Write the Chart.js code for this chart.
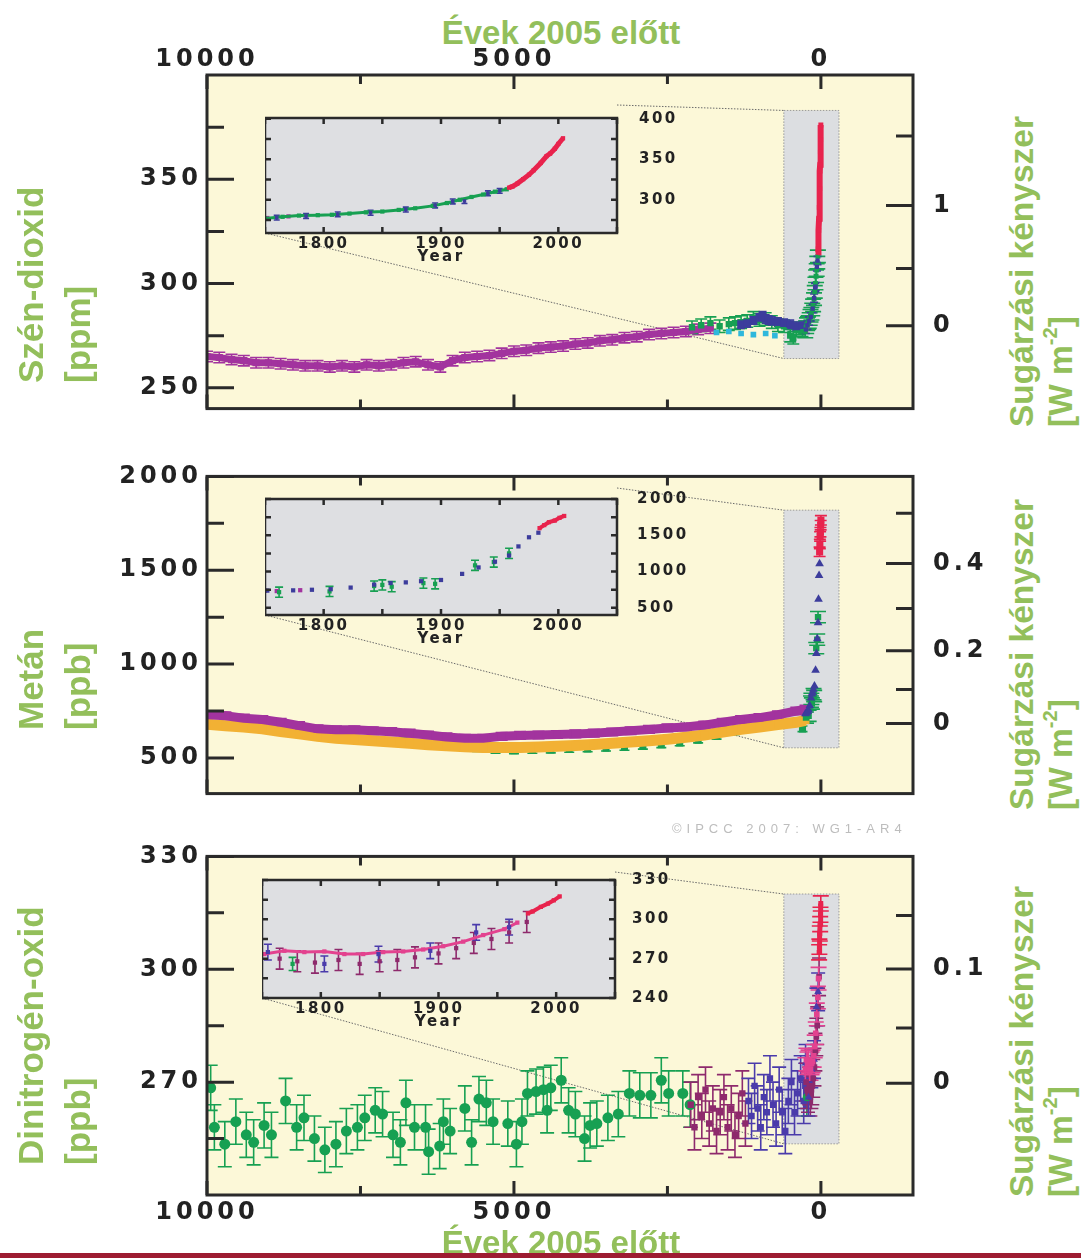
<!DOCTYPE html>
<html>
<head>
<meta charset="utf-8">
<script src="https://cdn.jsdelivr.net/npm/chart.js@4.4.0/dist/chart.umd.min.js"></script>
<style>
  body { margin: 0; background: #fff; font-family: "Liberation Sans", Arial, sans-serif; }
  #page { position: relative; width: 1081px; height: 1258px; overflow: hidden; }
  canvas { position: absolute; }
  .ttl { position: absolute; color: #93bf5b; font-weight: bold; font-size: 33px; line-height: 32px; white-space: nowrap; transform: translateX(-50%); }
  .side { position: absolute; color: #93bf5b; font-weight: bold; white-space: nowrap; transform: rotate(-90deg); transform-origin: 0 0; }
  .side sup { font-size: 60%; vertical-align: baseline; position: relative; top: -0.75em; }
  #ipcc { position: absolute; left: 672px; top: 821px; font-size: 13px; color: #bdbdbd; letter-spacing: 5px; }
  #bar { position: absolute; left: 0; top: 1253px; width: 1081px; height: 5px; background: #9d1c31; }
</style>
</head>
<body>
<div id="page">
  <div class="ttl" style="left:561px;top:17px">Évek 2005 előtt</div>

  <canvas id="main1" width="900" height="415" style="left:100px;top:20px"></canvas>
  <canvas id="main2" width="900" height="370" style="left:100px;top:450px"></canvas>
  <canvas id="main3" width="900" height="410" style="left:100px;top:830px"></canvas>
  <canvas id="inset1" width="432" height="171" style="left:265px;top:95px"></canvas>
  <canvas id="inset2" width="432" height="170" style="left:265px;top:478px"></canvas>
  <canvas id="inset3" width="433" height="169" style="left:262px;top:862px"></canvas>

  <div class="side" style="left:7px;top:383px;font-size:35px;line-height:47px">Szén-dioxid<br>[ppm]</div>
  <div class="side" style="left:7px;top:730px;font-size:35px;line-height:47px">Metán<br>[ppb]</div>
  <div class="side" style="left:7px;top:1165px;font-size:35px;line-height:47px">Dinitrogén-oxid<br>[ppb]</div>
  <div class="side" style="left:1002px;top:427px;font-size:33.5px;line-height:39px">Sugárzási kényszer<br>[W m<sup>-2</sup>]</div>
  <div class="side" style="left:1002px;top:810px;font-size:33.5px;line-height:39px">Sugárzási kényszer<br>[W m<sup>-2</sup>]</div>
  <div class="side" style="left:1002px;top:1197px;font-size:33.5px;line-height:39px">Sugárzási kényszer<br>[W m<sup>-2</sup>]</div>

  <div id="ipcc">©IPCC 2007: WG1-AR4</div>
  <div class="ttl" style="left:561px;top:1227px">Évek 2005 előtt</div>
  <div id="bar"></div>
</div>

<script>
// axes: years before 2005 on the big panels, calendar years in the insets
const yearTicks = [10000, 7500, 5000, 2500, 0];
const yearLabels = ['10000', '', '5000', '', '0'];
const insetYearTicks = [1750, 1800, 1850, 1900, 1950, 2000, 2050];
const insetYearLabels = ['', '1800', '', '1900', '', '2000', ''];

// CO2 axes
const co2Ticks = [250, 275, 300, 325, 350, 375];
const co2Labels = ['250', '', '300', '', '350', ''];
const co2ForcingPos = [279.7, 307.2, 337.4, 370.7];   // ppm where the forcing ticks sit
const co2ForcingLabels = ['0', '', '1', ''];
const co2InsetTicks = [275, 300, 325, 350, 375, 400];
const co2InsetLabels = ['', '300', '', '350', '', '400'];

// CH4 axes
const ch4Ticks = [500, 750, 1000, 1250, 1500, 1750, 2000];
const ch4Labels = ['500', '', '1000', '', '1500', '', '2000'];
const ch4ForcingPos = [683, 865, 1071, 1296, 1536, 1804];
const ch4ForcingLabels = ['0', '', '0.2', '', '0.4', ''];
const ch4InsetTicks = [500, 750, 1000, 1250, 1500, 1750, 2000];
const ch4InsetLabels = ['500', '', '1000', '', '1500', '', '2000'];

// N2O axes
const n2oTicks = [255, 270, 285, 300, 315, 330];
const n2oLabels = ['', '270', '', '300', '', '330'];
const n2oForcingPos = [269.7, 284.4, 300.1, 314.3];
const n2oForcingLabels = ['0', '', '0.1', ''];
const n2oInsetTicks = [240, 255, 270, 285, 300, 315, 330];
const n2oInsetLabels = ['240', '', '270', '', '300', '', '330'];

// CO2 series, [years before 2005, ppm]
const co2PurpleBP = [[10000,265],[9800,264.5],[9600,263.5],[9400,263],[9200,262],[9000,262],[8800,261.5],[8600,261],[8400,260.5],[8200,260.5],[8000,260],[7800,260.5],[7600,260],[7400,261],[7200,260.5],[7000,261],[6800,262],[6600,262.5],[6400,261],[6200,260],[6000,263],[5800,264.5],[5600,265],[5400,265.5],[5200,266.5],[5000,267.5],[4800,268],[4600,269],[4400,269.5],[4200,270],[4000,271],[3800,271.5],[3600,272.5],[3400,273],[3200,274],[3000,274.5],[2800,275.5],[2600,276],[2400,276.5],[2200,277],[2000,278],[1800,278.5]];
const co2GreenBP = [[2100,279],[1950,280],[1800,281],[1650,279.5],[1500,280.5],[1400,281],[1300,281.5],[1200,282],[1100,283.5],[1000,282.5],[900,283],[800,281.5],[700,280],[600,279.5],[500,275],[450,274],[400,277.5],[350,278.5],[300,277.5]];
const co2CyanBP = [[1700,276.5],[1500,277],[1300,276],[1100,275.5],[900,276],[750,275]];
const co2BlueBP = [[1300,280.5],[1200,281],[1100,282.5],[1000,283.5],[950,284.5],[900,283],[850,282.5],[800,282],[700,281.5],[600,281],[500,280.5],[400,279.5],[300,280]];
// CO2 series, [year AD, ppm]
const co2PurpleAD = [[1752,277.5],[1770,279.5]];
const co2GreenAD = [[1750,277],[1765,279],[1779,280.5],[1795,281],[1807,281.5],[1822,283],[1836,284.5],[1850,285.5],[1864,287.5],[1878,289.5],[1893,292.5],[1905,296],[1916,300],[1926,303.5],[1936,306.5],[1946,310],[1956,313]];
const co2BlueAD = [[1760,278],[1785,280],[1812,282],[1840,284],[1870,288],[1895,293],[1910,298],[1920,298.5],[1940,308],[1950,311]];
const co2RedAD = [[1958,315],[1961,316.5],[1965,320],[1970,325.5],[1975,331],[1979,336.5],[1985,345.5],[1990,354],[1993,357],[1997,363],[2000,369],[2004,376]];

// CH4 series, [years before 2005, ppb]
const ch4PurpleBP = [[10000,730],[9700,725],[9400,712],[9100,705],[8800,690],[8500,672],[8200,655],[7900,650],[7600,650],[7300,645],[7000,640],[6700,632],[6400,622],[6100,612],[5800,605],[5500,605],[5200,615],[4900,620],[4600,622],[4300,625],[4000,628],[3700,632],[3400,638],[3100,645],[2800,652],[2500,660],[2200,665],[1900,675],[1600,690],[1300,705],[1000,715],[700,730],[400,750],[250,760]];
const ch4OrangeBP = [[10000,680],[9700,672],[9400,665],[9100,655],[8800,640],[8500,628],[8200,615],[7900,605],[7600,598],[7300,592],[7000,585],[6700,578],[6400,570],[6100,565],[5800,560],[5500,556],[5200,555],[4900,556],[4600,558],[4300,562],[4000,566],[3700,572],[3400,578],[3100,585],[2800,592],[2500,600],[2200,610],[1900,622],[1600,638],[1300,652],[1000,665],[700,678],[400,690],[250,700]];
const ch4GreenBP = [[6800,590],[6500,575],[5600,550],[5300,540],[5000,538],[4700,540],[4400,542],[4100,545],[3800,548],[3500,552],[3200,556],[2900,562],[2600,570],[2300,580],[2000,595],[1700,615],[1400,640],[1100,660],[800,680],[500,690],[300,655],[250,700]];
// CH4 series, [year AD, ppb]
const ch4PurpleAD = [[1750,735],[1760,730],[1780,742]];
const ch4GreenAD = [[1762,715],[1805,725],[1843,800],[1850,815],[1858,790],[1885,840],[1895,830],[1929,1085],[1945,1130],[1958,1250]];
const ch4BlueAD = [[1752,736],[1774,740],[1790,748],[1806,756],[1823,778],[1843,819],[1857,841],[1870,850],[1883,866],[1900,883],[1918,967],[1932,1056],[1946,1135],[1958,1220],[1966,1346],[1975,1472],[1983,1535]];
const ch4RedAD = [[1984,1598],[1988,1640],[1992,1680],[1997,1703],[2001,1740],[2005,1766]];

// N2O series, [years before 2005, ppb]
const n2oGreenBP = [[9940,268.5],[9880,258],[9710,253.5],[9530,259.5],[9360,256],[9240,254],[9070,258.5],[8950,256],[8720,265],[8540,258],[8420,260.5],[8250,255],[8080,252],[7900,253.5],[7730,257],[7550,258],[7430,260.5],[7260,262.5],[7140,261.5],[6970,256],[6850,254],[6760,264.5],[6620,258],[6440,258],[6390,251.5],[6210,253],[6150,259.5],[6040,257],[5800,263],[5690,254],[5570,265.5],[5450,264.5],[5340,259.5],[5100,259],[4960,253.5],[4870,259.5],[4780,267],[4640,267.5],[4520,268],[4460,262.5],[4400,268.5],[4230,270.5],[4110,262.5],[4000,261.5],[3850,255],[3760,258.5],[3650,259],[3470,260.5],[3300,261.5],[3120,267],[2950,266.5],[2770,266.5],[2600,270.5],[2480,267],[2250,267],[2130,264]];
const n2oMaroonBP = [[2120,264],[2060,258],[2000,266],[1940,261],[1880,268],[1820,259],[1760,263],[1700,257],[1640,262],[1580,266],[1520,258],[1460,263],[1400,256],[1340,261],[1280,267],[1230,259]];
const n2oBlueBP = [[1180,265],[1130,261],[1080,269],[1030,263],[980,258],[930,266],[880,262],[830,271],[780,264],[730,259],[680,268],[630,262],[580,257],[530,265],[480,270],[430,262],[380,267],[330,271],[280,265],[255,269]];
// N2O series, [year AD, ppb]
const n2oPinkAD = [[1752,273.5],[1769,276],[1786,275],[1803,275.5],[1820,273.5],[1836,273.5],[1853,275],[1870,275.5],[1887,277],[1904,279.5],[1921,283],[1938,288],[1956,292.5],[1967,297.5]];
const n2oMaroonAD = [[1765,270],[1780,268],[1795,267],[1815,269],[1833,266],[1850,268],[1865,269],[1880,271],[1900,274],[1915,278],[1930,282],[1945,285],[1960,290],[1975,298]];
const n2oBlueAD = [[1755,275],[1803,266],[1849,273.5],[1893,276],[1932,290],[1960,294]];
const n2oGreenAD = [[1776,266]];
const n2oRedAD = [[1976,304.5],[1980,306],[1987,309.5],[1993,312],[1998,314.5],[2003,317.5]];

const PURPLE = '#a2339e', GREEN = '#17a052', BLUE = '#3c3c9c', CYAN = '#2fb8dc', RED = '#e8234d',
      ORANGE = '#f2b134', MAROON = '#8e2a6c', PINK = '#e3428f', VIOLET = '#4a3bab';

const toBP = arr => arr.map(p => ({x: 2005 - p[0], y: p[1]}));
const toXY = arr => arr.map(p => ({x: p[0], y: p[1]}));

function pts(data, color, extra) {
  return Object.assign({
    data: data, backgroundColor: color, borderColor: color,
    pointStyle: 'rect', pointRadius: 4, pointBorderWidth: 0, showLine: false
  }, extra || {});
}

// wide lettering of the original tick labels
const spacing = {
  id: 'spacing',
  beforeDraw(chart, args, o) { chart.ctx.letterSpacing = o.px + 'px'; }
};

// yellow / grey fill, the zoom band and the dotted connectors
const panelPlugin = {
  id: 'panel',
  beforeDatasetsDraw(chart, args, o) {
    const {ctx, chartArea: a, scales: {x, y}} = chart;
    ctx.save();
    ctx.fillStyle = o.bg;
    ctx.fillRect(a.left, a.top, a.width, a.height);
    if (o.band) {
      const l = x.getPixelForValue(o.band.x[0]), r = x.getPixelForValue(o.band.x[1]);
      const t = y.getPixelForValue(o.band.y[1]), b = y.getPixelForValue(o.band.y[0]);
      ctx.fillStyle = '#dcdee1';
      ctx.fillRect(l, t, r - l, b - t);
      ctx.setLineDash([1.5, 1.5]);
      ctx.strokeStyle = '#9a9a9a';
      ctx.lineWidth = 1;
      ctx.strokeRect(l, t, r - l, b - t);
      const ins = o.inset, off = o.offset;
      ctx.strokeStyle = '#6b6b6b';
      ctx.beginPath();
      ctx.moveTo(ins.right - off.left, ins.top - off.top); ctx.lineTo(l, t);
      ctx.moveTo(ins.left - off.left, ins.bottom - off.top); ctx.lineTo(l, b);
      ctx.stroke();
    }
    ctx.restore();
  }
};

// vertical error bars from the dataset's err (data units) and cap (px)
const errorBars = {
  id: 'errorBars',
  beforeDatasetsDraw(chart) {
    const {ctx, chartArea: a, scales: {x, y}} = chart;
    ctx.save();
    ctx.beginPath(); ctx.rect(a.left, a.top, a.width, a.height); ctx.clip();
    chart.data.datasets.slice().reverse().forEach(ds => {
      if (!ds.err) return;
      ctx.strokeStyle = ds.backgroundColor;
      ctx.lineWidth = 1.6;
      ctx.beginPath();
      ds.data.forEach(p => {
        const px = x.getPixelForValue(p.x);
        const y1 = y.getPixelForValue(p.y - ds.err), y2 = y.getPixelForValue(p.y + ds.err);
        ctx.moveTo(px, y1); ctx.lineTo(px, y2);
        ctx.moveTo(px - ds.cap, y1); ctx.lineTo(px + ds.cap, y1);
        ctx.moveTo(px - ds.cap, y2); ctx.lineTo(px + ds.cap, y2);
      });
      ctx.stroke();
    });
    ctx.restore();
  }
};

// box frame with inward tick marks
const frame = {
  id: 'frame',
  afterDatasetsDraw(chart, args, o) {
    const {ctx, chartArea: a} = chart;
    ctx.save();
    ctx.strokeStyle = '#2a2a2a';
    ctx.lineWidth = o.width;
    ctx.beginPath();
    Object.values(chart.scales).forEach(s => {
      s.ticks.forEach(t => {
        const p = s.getPixelForValue(t.value);
        if (s.isHorizontal()) {
          const len = t.label ? o.xLen[0] : o.xLen[1];
          ctx.moveTo(p, a.top); ctx.lineTo(p, a.top + len);
          ctx.moveTo(p, a.bottom); ctx.lineTo(p, a.bottom - len);
        } else {
          const len = t.label ? o.yLen[0] : o.yLen[1];
          if (s.position === 'left' || o.yBoth) { ctx.moveTo(a.left, p); ctx.lineTo(a.left + len, p); }
          if (s.position === 'right' || o.yBoth) { ctx.moveTo(a.right, p); ctx.lineTo(a.right - len, p); }
        }
      });
    });
    ctx.stroke();
    ctx.strokeRect(a.left, a.top, a.width, a.height);
    ctx.restore();
  }
};

const tickFont = {family: 'DejaVu Sans', weight: 'bold', size: 24};
const insetFont = {family: 'DejaVu Sans', weight: 'bold', size: 15};
const INK = '#222';

function fixedTicks(vals) {
  return s => { s.ticks = vals.map(v => ({value: v})); };
}

function mainChart(id, o) {
  return new Chart(document.getElementById(id), {
    type: 'scatter',
    data: {datasets: o.datasets},
    options: {
      responsive: false, animation: false, events: [],
      layout: {padding: o.pad, autoPadding: false},
      plugins: {
        legend: {display: false}, tooltip: {enabled: false},
        spacing: {px: 4},
        panel: {bg: '#fcf8d8', band: o.band, inset: o.inset, offset: o.offset},
        frame: {xLen: [14, 9], yLen: [27, 17], width: 3, yBoth: false}
      },
      scales: {
        x: {
          type: 'linear', position: o.xPos, reverse: true, min: -1500, max: 10000,
          grid: {display: false}, border: {display: false},
          afterBuildTicks: fixedTicks(yearTicks),
          afterFit: s => { s.height = o.xHeight; },
          ticks: {display: o.xLabels, autoSkip: false, maxRotation: 0, padding: o.xPad, color: INK, font: tickFont,
                  callback: (v, i) => yearLabels[i]}
        },
        y: {
          type: 'linear', position: 'left', min: o.min, max: o.max,
          grid: {display: false}, border: {display: false},
          afterBuildTicks: fixedTicks(o.ticks),
          afterFit: s => { s.width = 107; },
          ticks: {autoSkip: false, padding: -3, color: INK, font: tickFont, callback: (v, i) => o.labels[i]}
        },
        y2: {
          type: 'linear', position: 'right', min: o.min, max: o.max,
          grid: {display: false}, border: {display: false},
          afterBuildTicks: fixedTicks(o.forcePos),
          afterFit: s => { s.width = 87; },
          ticks: {autoSkip: false, padding: 12, color: INK, font: tickFont, callback: (v, i) => o.forceLabels[i]}
        }
      }
    },
    plugins: [spacing, panelPlugin, errorBars, frame]
  });
}

function insetChart(id, o) {
  return new Chart(document.getElementById(id), {
    type: 'scatter',
    data: {datasets: o.datasets},
    options: {
      responsive: false, animation: false, events: [],
      layout: {padding: {top: 10}, autoPadding: false},
      plugins: {
        legend: {display: false}, tooltip: {enabled: false},
        spacing: {px: 2.5},
        panel: {bg: '#dedfe2'},
        frame: {xLen: [6, 6], yLen: [6, 6], width: 2.5, yBoth: true}
      },
      scales: {
        x: {
          type: 'linear', position: 'bottom', min: 1750, max: 2050,
          grid: {display: false}, border: {display: false},
          afterBuildTicks: fixedTicks(insetYearTicks),
          afterFit: s => { s.height = 33; },
          ticks: {autoSkip: false, maxRotation: 0, padding: -6, color: INK, font: insetFont,
                  callback: (v, i) => insetYearLabels[i]},
          title: {display: true, text: 'Year', color: INK, font: insetFont, padding: 0}
        },
        y: {
          type: 'linear', position: 'right', min: o.min, max: o.max,
          grid: {display: false}, border: {display: false},
          afterBuildTicks: fixedTicks(o.ticks),
          afterFit: s => { s.width = 80; },
          ticks: {autoSkip: false, padding: o.labelPad, color: INK, font: insetFont, callback: (v, i) => o.labels[i]}
        }
      }
    },
    plugins: [spacing, panelPlugin, errorBars, frame]
  });
}

//Panel 1: carbon dioxide
mainChart('main1', {
  pad: {top: 0, bottom: 5}, xPos: 'top', xHeight: 55, xLabels: true, xPad: -7,
  min: 240, max: 400, ticks: co2Ticks, labels: co2Labels,
  forcePos: co2ForcingPos, forceLabels: co2ForcingLabels,
  band: {x: [604, -294], y: [264, 383]},
  inset: {left: 265, right: 617, top: 105, bottom: 233}, offset: {left: 100, top: 20},
  datasets: [
    pts(toBP(co2RedAD), RED, {pointRadius: 3.5, showLine: true, borderWidth: 6}),
    pts(toBP(co2BlueAD), BLUE, {pointRadius: 3, err: 2, cap: 4}),
    pts(toBP(co2GreenAD), GREEN, {pointRadius: 3.5, err: 3, cap: 8}),
    pts(toXY(co2BlueBP), BLUE, {pointRadius: 5.5, err: 2, cap: 4}),
    pts(toXY(co2CyanBP), CYAN, {pointRadius: 4}),
    pts(toXY(co2GreenBP), GREEN, {pointRadius: 4.5, err: 3, cap: 6}),
    pts(toXY(co2PurpleBP), PURPLE, {pointRadius: 5, showLine: true, borderWidth: 7, err: 2.5, cap: 6}),
    pts(toBP(co2PurpleAD), PURPLE, {pointRadius: 4})
  ]
});

//Panel 2: methane
mainChart('main2', {
  pad: {top: 10, bottom: 7}, xPos: 'bottom', xHeight: 0, xLabels: false, xPad: 0,
  min: 310, max: 2000, ticks: ch4Ticks, labels: ch4Labels,
  forcePos: ch4ForcingPos, forceLabels: ch4ForcingLabels,
  band: {x: [604, -294], y: [554, 1820]},
  inset: {left: 265, right: 617, top: 488, bottom: 615}, offset: {left: 100, top: 450},
  datasets: [
    pts(toBP(ch4RedAD), RED, {pointRadius: 5, err: 25, cap: 6}),
    pts(toBP(ch4BlueAD), BLUE, {pointStyle: 'triangle', pointRadius: 5}),
    pts(toBP(ch4GreenAD), GREEN, {pointRadius: 4.5, err: 30, cap: 8}),
    pts(toBP(ch4PurpleAD), PURPLE, {pointRadius: 4}),
    pts(toXY(ch4PurpleBP), PURPLE, {pointRadius: 5.5, showLine: true, borderWidth: 9, err: 20, cap: 6}),
    pts(toXY(ch4OrangeBP), ORANGE, {pointRadius: 5.5, showLine: true, borderWidth: 11, err: 15, cap: 5}),
    pts(toXY(ch4GreenBP), GREEN, {pointRadius: 5, err: 15, cap: 5})
  ]
});

//Panel 3: nitrous oxide
mainChart('main3', {
  pad: {top: 10, bottom: 0}, xPos: 'bottom', xHeight: 45, xLabels: true, xPad: -5,
  min: 240, max: 330, ticks: n2oTicks, labels: n2oLabels,
  forcePos: n2oForcingPos, forceLabels: n2oForcingLabels,
  band: {x: [604, -294], y: [253.6, 320]},
  inset: {left: 262, right: 615, top: 872, bottom: 998}, offset: {left: 100, top: 830},
  datasets: [
    pts(toBP(n2oRedAD), RED, {pointRadius: 3.5, showLine: true, borderWidth: 5, err: 2, cap: 8}),
    pts(toBP(n2oPinkAD), PINK, {pointRadius: 4, err: 3, cap: 8}),
    pts(toBP(n2oBlueAD), VIOLET, {pointStyle: 'triangle', pointRadius: 4.5, err: 5, cap: 7}),
    pts(toBP(n2oMaroonAD), MAROON, {pointRadius: 4, err: 5, cap: 7}),
    pts(toBP(n2oGreenAD), GREEN, {pointStyle: 'circle', pointRadius: 4, err: 5, cap: 6}),
    pts(toXY(n2oBlueBP), VIOLET, {pointRadius: 4.5, err: 6, cap: 7}),
    pts(toXY(n2oMaroonBP), MAROON, {pointRadius: 4.5, err: 6, cap: 7}),
    pts(toXY(n2oGreenBP), GREEN, {pointStyle: 'circle', pointRadius: 5.5, err: 6, cap: 7})
  ]
});

//Insets: the last 250 years
insetChart('inset1', {
  min: 259, max: 401, ticks: co2InsetTicks, labels: co2InsetLabels, labelPad: 14,
  datasets: [
    pts(toXY(co2RedAD), RED, {pointRadius: 3, showLine: true, borderWidth: 5}),
    pts(toXY(co2BlueAD), BLUE, {pointRadius: 2.5, err: 3, cap: 3}),
    pts(toXY(co2GreenAD), GREEN, {pointRadius: 3, showLine: true, borderWidth: 3}),
    pts(toXY(co2PurpleAD), PURPLE, {pointRadius: 3})
  ]
});

insetChart('inset2', {
  min: 400, max: 2000, ticks: ch4InsetTicks, labels: ch4InsetLabels, labelPad: 12,
  datasets: [
    pts(toXY(ch4RedAD), RED, {pointRadius: 3, showLine: true, borderWidth: 4}),
    pts(toXY(ch4BlueAD), BLUE, {pointRadius: 3}),
    pts(toXY(ch4GreenAD), GREEN, {pointRadius: 3, err: 70, cap: 4}),
    pts(toXY(ch4PurpleAD), PURPLE, {pointRadius: 3})
  ]
});

insetChart('inset3', {
  min: 240, max: 330, ticks: n2oInsetTicks, labels: n2oInsetLabels, labelPad: 9,
  datasets: [
    pts(toXY(n2oRedAD), RED, {pointRadius: 3, showLine: true, borderWidth: 4}),
    pts(toXY(n2oBlueAD), VIOLET, {pointRadius: 3, err: 6, cap: 4}),
    pts(toXY(n2oPinkAD), PINK, {pointRadius: 3, showLine: true, borderWidth: 3}),
    pts(toXY(n2oMaroonAD), MAROON, {pointRadius: 3, err: 8, cap: 4}),
    pts(toXY(n2oGreenAD), GREEN, {pointRadius: 3, err: 5, cap: 4})
  ]
});
</script>
</body>
</html>
